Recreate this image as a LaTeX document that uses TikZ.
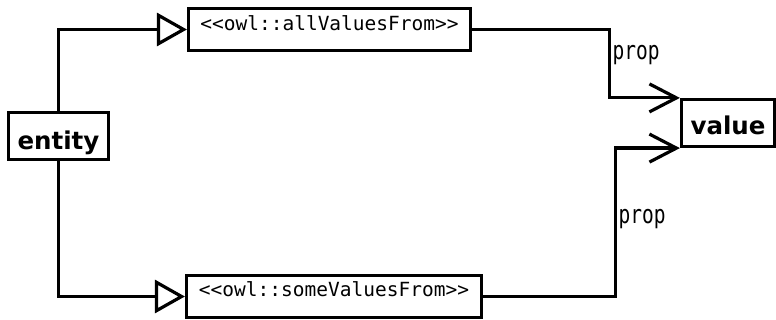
\documentclass[tikz,border=0pt]{standalone}
\usepackage{fontspec}
\usepackage{graphicx}
\newfontfamily\monofnt{DejaVu Sans Mono}
\newfontfamily\labfnt{DejaVu Sans}
\usetikzlibrary{arrows.meta}
\begin{document}
\begin{tikzpicture}[x=1pt,y=-1pt,line width=3.2pt,
  box/.style={draw,rectangle,inner sep=0pt,line width=3.2pt},
  owltext/.style={font=\monofnt\fontsize{19.5}{22}\selectfont,inner sep=0pt,anchor=base},
  proptext/.style={font=\monofnt\fontsize{19.5}{22}\selectfont,inner sep=0pt,anchor=base west},
  nametext/.style={font=\labfnt\bfseries\fontsize{24.5}{28}\selectfont,inner sep=0pt,anchor=base},
  gen/.style={-{Triangle[open,length=30pt,width=33pt,fill=white]}},
  assoc/.style={-{Straight Barb[length=27pt,width=28pt]}}]
\useasboundingbox (0,0) rectangle (776,320);
% boxes
\node[box,minimum width=100pt,minimum height=47pt] (ent) at (58.5,136) {};
\node[box,minimum width=93pt,minimum height=47pt] (val) at (728,123) {};
\node[box,minimum width=282pt,minimum height=42pt] (avf) at (329.5,29.5) {};
\node[box,minimum width=295pt,minimum height=42pt] (svf) at (334,296.5) {};
% texts
\node[nametext] (entT) at (58.5,150) {entity};
\node[nametext] (valT) at (728,135) {value};
\node[owltext] (avfT) at (329.5,31) {{<}{<}owl::allValuesFrom{>}{>}};
\node[owltext] (svfT) at (334,297) {{<}{<}owl::someValuesFrom{>}{>}};
\node[proptext] (p1) at (611,60) {\scalebox{1}[1.3]{prop}};
\node[proptext] (p2) at (617,224) {\scalebox{1}[1.3]{prop}};
% connectors
\draw[gen] (ent.north) |- (avf.west);
\draw[gen] (ent.south) |- (svf.west);
\draw[assoc] (avf.east) -- ++(137,0) |- (val.north west);
\draw[assoc] (svf.east) -- ++(132,0) |- (val.south west);
\end{tikzpicture}
\end{document}
